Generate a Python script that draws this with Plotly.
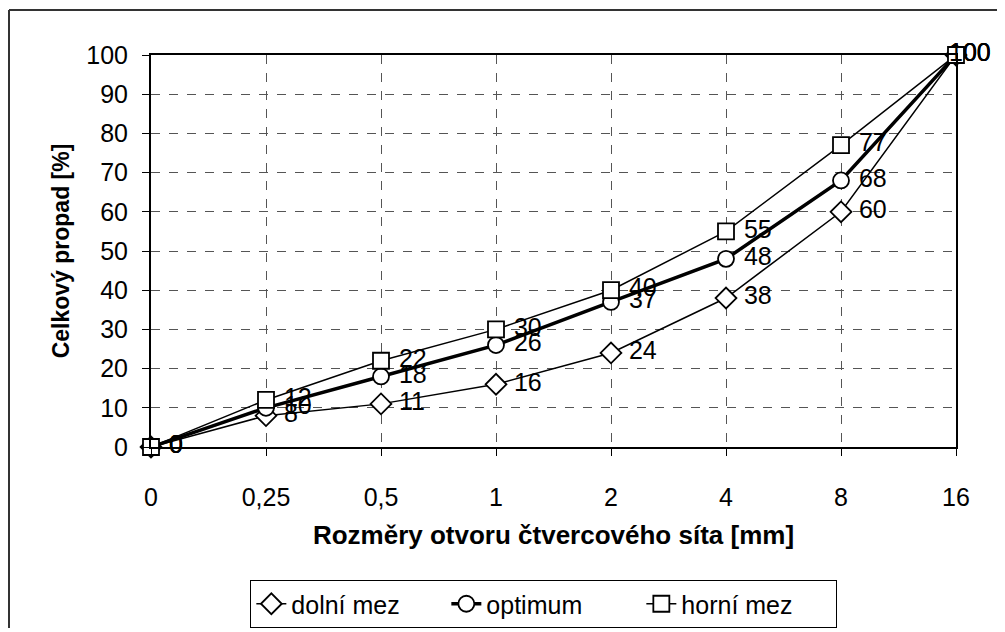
import plotly.graph_objects as go

categories = ["0", "0,25", "0,5", "1", "2", "4", "8", "16"]
dolni_mez = [0, 8, 11, 16, 24, 38, 60, 100]
optimum = [0, 10, 18, 26, 37, 48, 68, 100]
horni_mez = [0, 12, 22, 30, 40, 55, 77, 100]
y_ticks = list(range(0, 101, 10))

FONT = "Liberation Sans, Arial, sans-serif"
NB = "\u00a0"

fig = go.Figure()

series = [
    ("dolní mez", dolni_mez, "diamond", 1.5, 16),
    ("optimum", optimum, "circle", 3.5, 16),
    ("horní mez", horni_mez, "square", 1.5, 16),
]
for name, vals, sym, lw, ms in series:
    labels = [NB + str(v) for v in vals[:-1]] + [NB * 4 + str(vals[-1])]
    positions = ["middle right"] * (len(vals) - 1) + ["middle center"]
    fig.add_trace(go.Scatter(
        x=categories, y=vals, name=name,
        mode="lines+markers+text",
        text=labels,
        textposition=positions,
        textfont=dict(family=FONT, size=25, color="black"),
        line=dict(color="black", width=lw),
        marker=dict(symbol=sym, size=ms, color="white",
                    line=dict(color="black", width=1.8)),
        cliponaxis=False,
    ))

# page has an 8px body margin; figure sized so plot area lands at x 151-956, y 55-447
fig.update_layout(
    width=989, height=620,
    margin=dict(l=143, r=41, t=47, b=181),
    paper_bgcolor="white", plot_bgcolor="white",
    font=dict(family=FONT, color="black"),
    showlegend=True,
    legend=dict(
        orientation="h", x=0.488, xanchor="center",
        yref="container", y=1 - 596 / 620, yanchor="middle",
        bordercolor="black", borderwidth=1, bgcolor="white",
        font=dict(family=FONT, size=25, color="black"),
        entrywidth=150, entrywidthmode="pixels", tracegroupgap=0,
    ),
    xaxis=dict(
        type="category", categoryorder="array", categoryarray=categories,
        range=[0, 7], showgrid=True, gridcolor="#555555", griddash="dash", gridwidth=1,
        showline=True, linecolor="black", linewidth=2, mirror=True,
        ticks="outside", ticklen=7, tickcolor="black", ticklabelstandoff=20,
        tickfont=dict(family=FONT, size=25, color="black"),
        title=dict(text="<b>Rozměry otvoru čtvercového síta [mm]</b>",
                   font=dict(family=FONT, size=26, color="black"), standoff=16),
        zeroline=False, automargin=False,
    ),
    yaxis=dict(
        range=[0, 100], tickvals=y_ticks, showgrid=True, gridcolor="#555555",
        griddash="dash", gridwidth=1,
        showline=True, linecolor="black", linewidth=2, mirror=True,
        ticks="outside", ticklen=7, tickcolor="black", ticklabelstandoff=9,
        tickfont=dict(family=FONT, size=25, color="black"),
        title=dict(text="<b>Celkový propad [%]</b>",
                   font=dict(family=FONT, size=23, color="black"), standoff=10),
        zeroline=False, automargin=False,
    ),
)

# outer chart frame (left and top edges visible in the reference)
fig.add_shape(type="line", xref="paper", yref="paper",
              x0=(9 - 151) / 805, x1=(9 - 151) / 805,
              y0=(447 - 10) / 392, y1=(447 - 640) / 392,
              line=dict(color="#333333", width=2))
fig.add_shape(type="line", xref="paper", yref="paper",
              x0=(9 - 151) / 805, x1=(1010 - 151) / 805,
              y0=(447 - 10) / 392, y1=(447 - 10) / 392,
              line=dict(color="#333333", width=2))

fig.write_html("out.html")
